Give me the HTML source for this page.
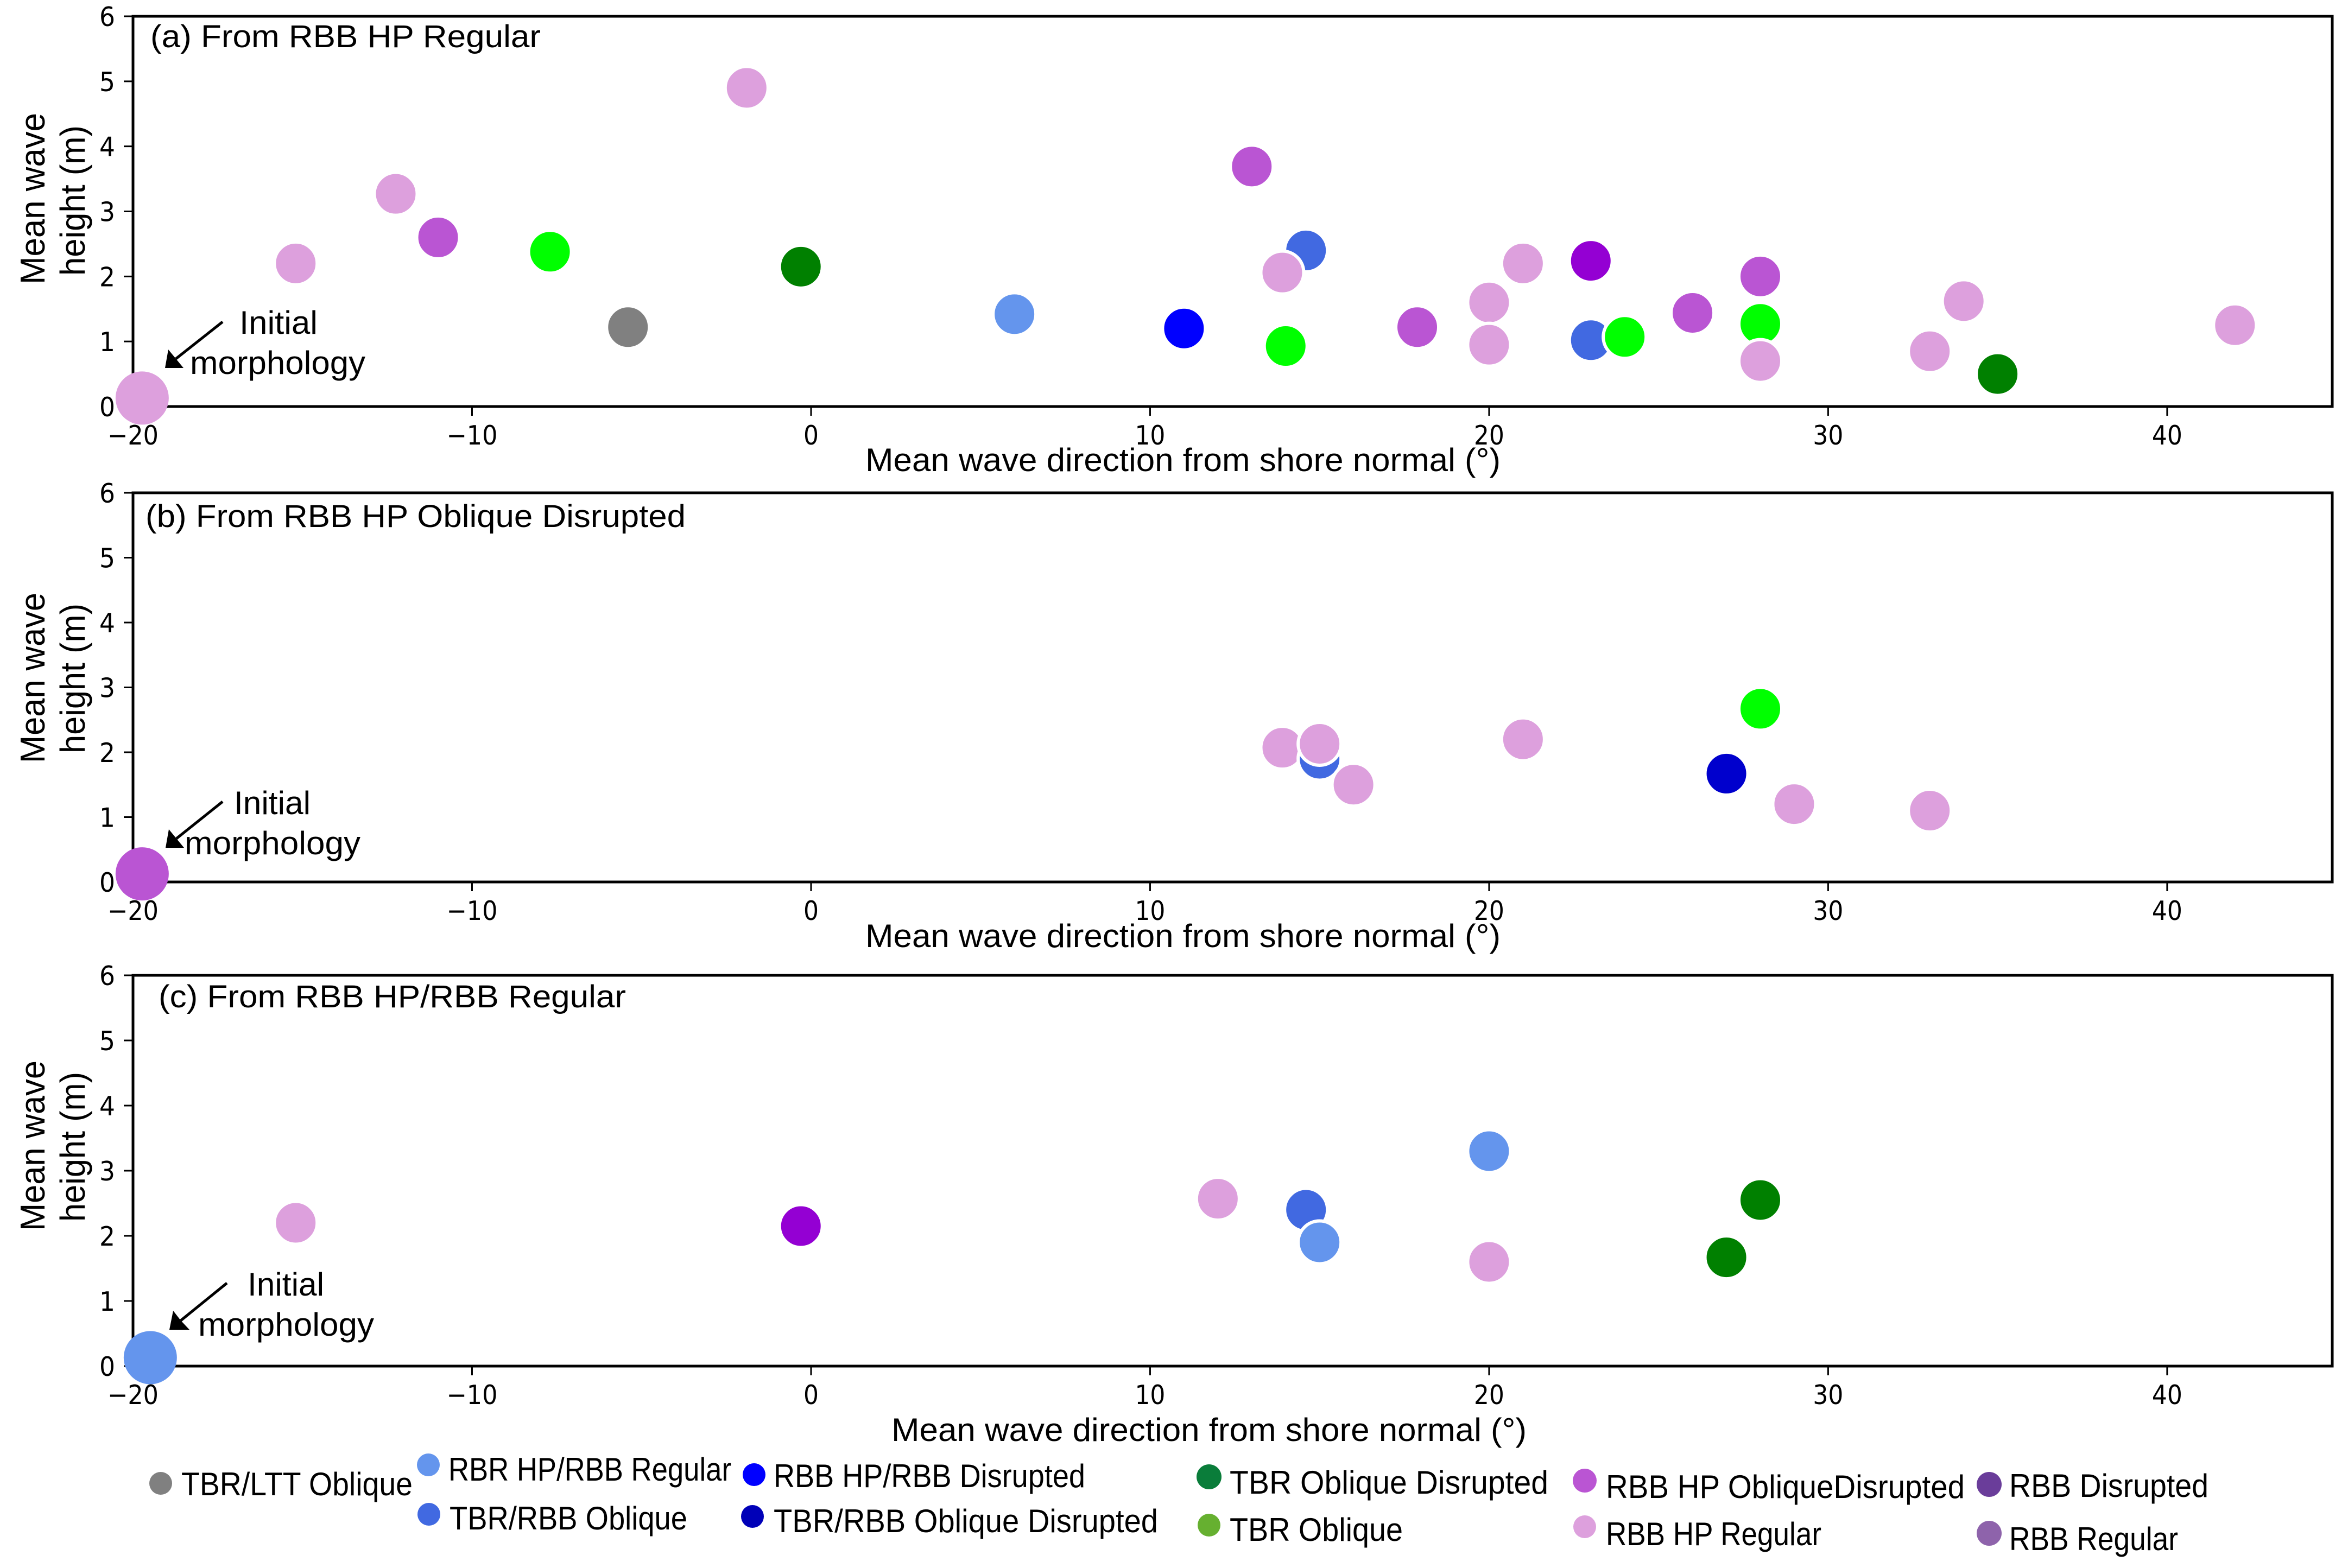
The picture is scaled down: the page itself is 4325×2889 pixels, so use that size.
<!DOCTYPE html>
<html lang="en">
<head>
<meta charset="utf-8">
<title>Morphology transitions: mean wave height vs direction</title>
<style>
html,body{margin:0;padding:0;background:#fff;width:4325px;height:2889px;overflow:hidden}
svg{display:block}
.sans{font-family:"Liberation Sans",sans-serif;fill:#000}
.tick{font-family:"DejaVu Sans",sans-serif;fill:#000;font-size:49px}
</style>
</head>
<body>
<svg id="chart" xmlns="http://www.w3.org/2000/svg" width="4325" height="2889" viewBox="0 0 4325 2889">
<rect x="0" y="0" width="4325" height="2889" fill="#fff"/>
<g id="panels"></g>

<g class="sans" font-size="60">
<text font-size="58" x="277" y="87" textLength="719" lengthAdjust="spacingAndGlyphs">(a) From RBB HP Regular</text>
<text x="1594" y="868" textLength="1170" lengthAdjust="spacingAndGlyphs">Mean wave direction from shore normal (°)</text>
<text font-size="64" transform="translate(82,524) rotate(-90)" textLength="316" lengthAdjust="spacingAndGlyphs">Mean wave</text>
<text font-size="64" transform="translate(156,508) rotate(-90)" textLength="277" lengthAdjust="spacingAndGlyphs">height (m)</text>
<text x="441" y="615" textLength="144" lengthAdjust="spacingAndGlyphs">Initial</text>
<text x="350" y="689" textLength="323" lengthAdjust="spacingAndGlyphs">morphology</text>
<line x1="410" y1="593" x2="324" y2="661" stroke="#000" stroke-width="5"/>
<polygon points="304,678 310,644 324,661 338,678" fill="#000"/>
</g>

<g class="sans" font-size="60">
<text font-size="58" x="268" y="971" textLength="995" lengthAdjust="spacingAndGlyphs">(b) From RBB HP Oblique Disrupted</text>
<text x="1594" y="1745" textLength="1170" lengthAdjust="spacingAndGlyphs">Mean wave direction from shore normal (°)</text>
<text font-size="64" transform="translate(82,1406) rotate(-90)" textLength="314" lengthAdjust="spacingAndGlyphs">Mean wave</text>
<text font-size="64" transform="translate(156,1388) rotate(-90)" textLength="276" lengthAdjust="spacingAndGlyphs">height (m)</text>
<text x="431" y="1500" textLength="141" lengthAdjust="spacingAndGlyphs">Initial</text>
<text x="340" y="1574" textLength="324" lengthAdjust="spacingAndGlyphs">morphology</text>
<line x1="410" y1="1477" x2="325" y2="1545" stroke="#000" stroke-width="5"/>
<polygon points="305,1562 311,1528 325,1545 339,1562" fill="#000"/>
</g>

<g class="sans" font-size="60">
<text font-size="58" x="292" y="1856" textLength="861" lengthAdjust="spacingAndGlyphs">(c) From RBB HP/RBB Regular</text>
<text x="1642" y="2655" textLength="1170" lengthAdjust="spacingAndGlyphs">Mean wave direction from shore normal (°)</text>
<text font-size="64" transform="translate(82,2268) rotate(-90)" textLength="314" lengthAdjust="spacingAndGlyphs">Mean wave</text>
<text font-size="64" transform="translate(156,2251) rotate(-90)" textLength="276" lengthAdjust="spacingAndGlyphs">height (m)</text>
<text x="456" y="2387" textLength="141" lengthAdjust="spacingAndGlyphs">Initial</text>
<text x="365" y="2461" textLength="324" lengthAdjust="spacingAndGlyphs">morphology</text>
<line x1="418" y1="2364" x2="333" y2="2433" stroke="#000" stroke-width="5"/>
<polygon points="312,2450 319,2415 333,2433 349,2450" fill="#000"/>
</g>

<g class="sans" font-size="60">
<g><circle cx="296" cy="2733" r="21" fill="#808080"/><text x="334" y="2755" textLength="426" lengthAdjust="spacingAndGlyphs">TBR/LTT Oblique</text></g>
<g><circle cx="789" cy="2699" r="21" fill="#6495ed"/><text x="826" y="2728" textLength="521" lengthAdjust="spacingAndGlyphs">RBR HP/RBB Regular</text></g>
<g><circle cx="790" cy="2790" r="21" fill="#4169e1"/><text x="828" y="2818" textLength="438" lengthAdjust="spacingAndGlyphs">TBR/RBB Oblique</text></g>
<g><circle cx="1389" cy="2717" r="21" fill="#0000ff"/><text x="1425" y="2740" textLength="574" lengthAdjust="spacingAndGlyphs">RBB HP/RBB Disrupted</text></g>
<g><circle cx="1386" cy="2794" r="21" fill="#0000b8"/><text x="1425" y="2823" textLength="708" lengthAdjust="spacingAndGlyphs">TBR/RBB Oblique Disrupted</text></g>
<g><circle cx="2227" cy="2721" r="23" fill="#0a7d3a"/><text x="2265" y="2752" textLength="587" lengthAdjust="spacingAndGlyphs">TBR Oblique Disrupted</text></g>
<g><circle cx="2227" cy="2810" r="21" fill="#66b030"/><text x="2265" y="2839" textLength="319" lengthAdjust="spacingAndGlyphs">TBR Oblique</text></g>
<g><circle cx="2919" cy="2728" r="22" fill="#ba55d3"/><text x="2958" y="2760" textLength="661" lengthAdjust="spacingAndGlyphs">RBB HP ObliqueDisrupted</text></g>
<g><circle cx="2919" cy="2813" r="21" fill="#dda0dd"/><text x="2958" y="2847" textLength="397" lengthAdjust="spacingAndGlyphs">RBB HP Regular</text></g>
<g><circle cx="3664" cy="2735" r="23" fill="#6a3d9a"/><text x="3701" y="2758" textLength="367" lengthAdjust="spacingAndGlyphs">RBB Disrupted</text></g>
<g><circle cx="3664" cy="2825" r="23" fill="#8e63ab"/><text x="3701" y="2856" textLength="311" lengthAdjust="spacingAndGlyphs">RBB Regular</text></g>
</g>
</svg>

<script>
const xTickValues = [-20, -10, 0, 10, 20, 30, 40];
const yTickValues = [0, 1, 2, 3, 4, 5, 6];

const stateNames = ['gray', 'cornflower', 'royal', 'blue', 'navy', 'green', 'lime', 'orchid', 'violet', 'pink'];
const stateColors = ['#808080', '#6495ed', '#4169e1', '#0000ff', '#0000cd', '#008000', '#00ff00', '#ba55d3', '#9400d3', '#dda0dd'];

const panelADirection = [-15.2, -12.25, -11, -7.7, -5.4, -1.9, -0.3, 6, 11, 13, 14, 14.6, 13.9, 17.88, 20, 20, 21, 23, 23, 24, 26, 28, 28, 28, 33, 34, 35, 42, -19.73];
const panelAHeight = [2.2, 3.27, 2.6, 2.38, 1.22, 4.9, 2.15, 1.42, 1.2, 3.69, 0.93, 2.4, 2.06, 1.22, 1.6, 0.95, 2.2, 2.24, 1.02, 1.07, 1.44, 2.0, 1.27, 0.7, 0.85, 1.62, 0.5, 1.25, 0.13];
const panelAState = ['pink', 'pink', 'orchid', 'lime', 'gray', 'pink', 'green', 'cornflower', 'blue', 'orchid', 'lime', 'royal', 'pink', 'orchid', 'pink', 'pink', 'pink', 'violet', 'royal', 'lime', 'orchid', 'orchid', 'lime', 'pink', 'pink', 'pink', 'green', 'pink', 'pink'];

const panelBDirection = [13.9, 15, 15, 16, 21, 28, 27, 29, 33, -19.73];
const panelBHeight = [2.07, 1.9, 2.13, 1.5, 2.2, 2.67, 1.67, 1.2, 1.1, 0.125];
const panelBState = ['pink', 'royal', 'pink', 'pink', 'pink', 'lime', 'navy', 'pink', 'pink', 'orchid'];

const panelCDirection = [-15.2, -0.3, 12, 14.6, 15, 20, 20, 27, 28, -19.49];
const panelCHeight = [2.2, 2.15, 2.57, 2.4, 1.9, 3.3, 1.6, 1.67, 2.55, 0.13];
const panelCState = ['pink', 'violet', 'pink', 'royal', 'cornflower', 'cornflower', 'pink', 'green', 'green', 'cornflower'];

const NS = 'http://www.w3.org/2000/svg';
const xLeft = 245, xRight = 4296, xMin = -20, xMax = 44.87;
const yMin = 0, yMax = 6;
const xScale = v => xLeft + (v - xMin) * (xRight - xLeft) / (xMax - xMin);

function node(parent, tag, attrs, text) {
  const el = document.createElementNS(NS, tag);
  for (const k in attrs) el.setAttribute(k, attrs[k]);
  if (text !== undefined) el.textContent = text;
  parent.appendChild(el);
  return el;
}

function drawPanel(key, top, bottom, dirs, heights, states) {
  const yScale = v => bottom - (v - yMin) * (bottom - top) / (yMax - yMin);
  const root = document.getElementById('panels');
  const g = node(root, 'g', {});
  
  

  const frame = node(g, 'rect', {x: xLeft, y: top, width: xRight - xLeft, height: bottom - top, fill: 'none', stroke: '#000', 'stroke-width': 5});
  
  

  xTickValues.forEach(v => {
    const x = xScale(v);
    const tick = node(g, 'line', {x1: x, x2: x, y1: bottom, y2: bottom + 17, stroke: '#000', 'stroke-width': 3});
    
    
    const s = (v < 0 ? '\u2212' : '') + Math.abs(v);
    const len = v === 0 ? 28 : (v < 0 ? 94 : 56);
    const label = node(g, 'text', {class: 'tick', x: x - len / 2, y: bottom + 70, textLength: len, lengthAdjust: 'spacingAndGlyphs'}, s);
    
    
  });

  yTickValues.forEach(v => {
    const y = yScale(v);
    const tick = node(g, 'line', {x1: xLeft - 17, x2: xLeft, y1: y, y2: y, stroke: '#000', 'stroke-width': 3});
    
    
    const label = node(g, 'text', {class: 'tick', x: 183, y: y + 18, textLength: 29, lengthAdjust: 'spacingAndGlyphs'}, String(v));
    
    
  });

  dirs.forEach((d, i) => {
    const initial = i === dirs.length - 1;
    const pt = node(g, 'circle', {
      cx: xScale(d),
      cy: yScale(heights[i]),
      r: initial ? 49 : 39.5,
      fill: stateColors[stateNames.indexOf(states[i])],
      stroke: initial ? 'none' : '#fff',
      'stroke-width': initial ? 0 : 6
    });
    
    
  });
}

drawPanel('a', 30, 749, panelADirection, panelAHeight, panelAState);
drawPanel('b', 908, 1625, panelBDirection, panelBHeight, panelBState);
drawPanel('c', 1797, 2517, panelCDirection, panelCHeight, panelCState);
</script>
</body>
</html>
